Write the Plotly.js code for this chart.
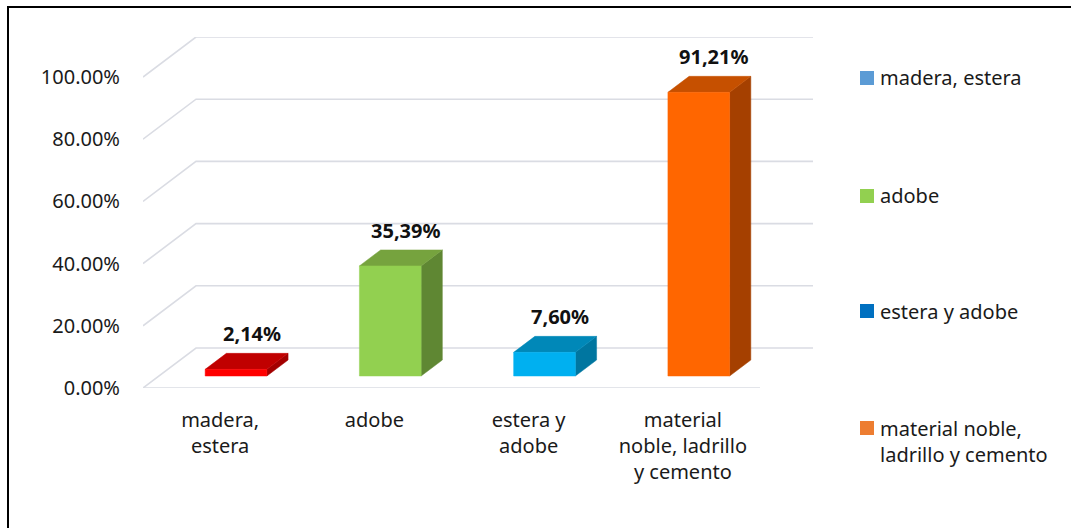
<!DOCTYPE html>
<html>
<head>
<meta charset="utf-8">
<script src="https://cdn.plot.ly/plotly-3.0.1.min.js"></script>
<style>
  html, body { margin:0; padding:0; overflow:hidden; background:#fff; }
  #chart { width:1071px; height:528px; }
  #frame { position:absolute; left:7px; top:6px; width:1200px; height:700px;
           border-left:2px solid #000; border-top:2px solid #000; pointer-events:none; }
</style>
</head>
<body>
<div id="chart"></div>
<div id="frame"></div>
<script>
// ---- data ----
const categories = ["madera,<br>estera", "adobe", "estera y<br>adobe", "material<br>noble, ladrillo<br>y cemento"];
const values = [2.14, 35.39, 7.60, 91.21];
const valueLabels = ["2,14%", "35,39%", "7,60%", "91,21%"];
const tickValues = [0, 20, 40, 60, 80, 100];
const tickLabels = ["0.00%", "20.00%", "40.00%", "60.00%", "80.00%", "100.00%"];
const legendNames = ["madera, estera", "adobe", "estera y adobe", "material noble,<br>ladrillo y cemento"];

// ---- styles ----
const frontColors = ["#ff0000", "#92d050", "#00b0f0", "#ff6600"];
const topColors   = ["#c00000", "#76a33e", "#0088b8", "#c65000"];
const sideColors  = ["#a30000", "#5f8733", "#0076a0", "#a54000"];
const legendColors = ["#5b9bd5", "#92d050", "#0070c0", "#ed7d31"];
const gridColor = "#dadce3";
const FONT = "Noto Sans, Open Sans, sans-serif";

// 3D projection: full depth shift in axis units
const D = 0.3437;   // x shift for full depth
const DY = 12.86;   // y shift (in %) for full depth
const barFront = 0.3, barBack = 0.7, barHalf = 0.2;
const xMin = -0.5, xMax = categories.length - 0.5;

const traces = [];
// gridlines: left diagonal + back wall
tickValues.forEach(t => {
  traces.push({
    type: "scatter", mode: "lines", hoverinfo: "skip", showlegend: false,
    x: [xMin, xMin + D, xMax + D],
    y: [t, t + DY, t + DY],
    line: { color: gridColor, width: 1.6 }
  });
});
// floor front edge
traces.push({
  type: "scatter", mode: "lines", hoverinfo: "skip", showlegend: false,
  x: [xMin, xMax], y: [0, 0],
  line: { color: gridColor, width: 1.6 }
});

function poly(xs, ys, color) {
  traces.push({
    type: "scatter", mode: "lines", fill: "toself", fillcolor: color,
    hoverinfo: "skip", showlegend: false,
    x: xs.concat([xs[0]]), y: ys.concat([ys[0]]),
    line: { color: color, width: 0.5 }
  });
}

values.forEach((v, i) => {
  const x0 = i - barHalf + barFront * D, x1 = i + barHalf + barFront * D;
  const b = barFront * DY;
  const dd = (barBack - barFront) * D, ddy = (barBack - barFront) * DY;
  // side
  poly([x1, x1 + dd, x1 + dd, x1], [b, b + ddy, b + v + ddy, b + v], sideColors[i]);
  // top
  poly([x0, x1, x1 + dd, x0 + dd], [b + v, b + v, b + v + ddy, b + v + ddy], topColors[i]);
  // front
  poly([x0, x1, x1, x0], [b, b, b + v, b + v], frontColors[i]);
});

// data labels
const annotations = values.map((v, i) => ({
  x: i + barFront * D + (barBack - barFront) * D / 2,
  y: v + barBack * DY,
  xref: "x", yref: "y",
  text: "<b>" + valueLabels[i] + "</b>",
  showarrow: false, xanchor: "center", yanchor: "bottom",
  xshift: 5, yshift: 4,
  font: { family: FONT, size: 20, color: "#111" }
}));

// legend (drawn manually, pixel positions converted to paper)
const L = 143, R = 813, T = 37, B = 388;
const px = p => (p - L) / (R - L);
const py = p => (B - p) / (B - T);
const legendY = [78, 196, 311, 428];
const shapes = [];
legendNames.forEach((name, i) => {
  shapes.push({
    type: "rect", xref: "paper", yref: "paper",
    x0: px(860), x1: px(874), y0: py(legendY[i] + 7), y1: py(legendY[i] - 7),
    fillcolor: legendColors[i], line: { width: 0 }
  });
  const multi = name.indexOf("<br>") >= 0;
  annotations.push({
    xref: "paper", yref: "paper",
    x: px(878), y: multi ? py(legendY[i] - 15) : py(legendY[i]),
    text: name, showarrow: false, align: "left",
    xanchor: "left", yanchor: multi ? "top" : "middle",
    font: { family: FONT, size: 20, color: "#1a1a1a" }
  });
});

const layout = {
  width: 1071, height: 528,
  margin: { l: L, r: 1071 - R, t: T, b: 528 - B, pad: 0 },
  paper_bgcolor: "#ffffff", plot_bgcolor: "rgba(0,0,0,0)",
  showlegend: false,
  font: { family: FONT, size: 20, color: "#1a1a1a" },
  xaxis: {
    range: [xMin, xMax + D], tickmode: "array",
    tickvals: categories.map((c, i) => i), ticktext: categories,
    showgrid: false, zeroline: false, showline: false, ticks: "",
    ticklabelstandoff: 18, fixedrange: true,
    tickfont: { family: FONT, size: 20, color: "#1a1a1a" }
  },
  yaxis: {
    range: [0, 100 + DY], tickmode: "array",
    tickvals: tickValues, ticktext: tickLabels,
    showgrid: false, zeroline: false, showline: false, ticks: "",
    ticklabelstandoff: 22, fixedrange: true,
    tickfont: { family: FONT, size: 20, color: "#1a1a1a" }
  },
  annotations: annotations,
  shapes: shapes
};

Plotly.newPlot("chart", traces, layout, { staticPlot: true, displayModeBar: false });
</script>
</body>
</html>
